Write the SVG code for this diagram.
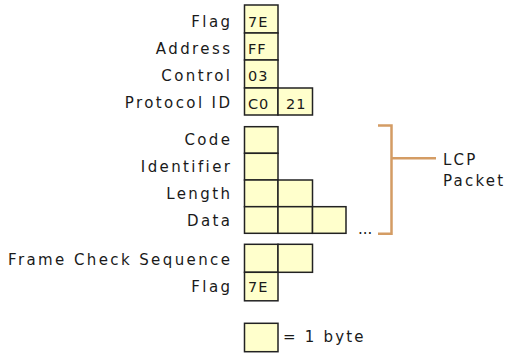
<svg xmlns="http://www.w3.org/2000/svg" width="505" height="354" viewBox="0 0 505 354">
<style>
.b{fill:#FFFFCC;stroke:#222;stroke-width:1.5}
.l{font-family:"DejaVu Sans",Verdana,sans-serif;font-size:15px;fill:#1a1a1a;letter-spacing:2.4px;text-anchor:end}
.v{font-family:"DejaVu Sans",Verdana,sans-serif;font-size:14.5px;fill:#1a1a1a;letter-spacing:1px}
.t{font-family:"DejaVu Sans",Verdana,sans-serif;font-size:15px;fill:#1a1a1a;letter-spacing:2.2px}
.c{fill:none;stroke:#D49C64;stroke-width:2.5}
</style>
<rect width="505" height="354" fill="#fff"/>
<g id="flag1">
<rect class="b" x="244.5" y="5" width="33.5" height="28"/>
<text class="l" x="232.4" y="26.5">Flag</text>
<text class="v" x="248" y="27">7E</text>
</g>
<g id="address">
<rect class="b" x="244.5" y="33" width="33.5" height="27"/>
<text class="l" x="232.4" y="53.5">Address</text>
<text class="v" x="248" y="53.5">FF</text>
</g>
<g id="control">
<rect class="b" x="244.5" y="60" width="33.5" height="28"/>
<text class="l" x="232.4" y="81">Control</text>
<text class="v" x="248" y="81">03</text>
</g>
<g id="protocol">
<rect class="b" x="244.5" y="88" width="33.5" height="27"/>
<rect class="b" x="278" y="88" width="34.5" height="27"/>
<text class="l" x="232.4" y="108">Protocol ID</text>
<text class="v" x="248" y="108.5">C0</text>
<text class="v" x="286" y="108.5">21</text>
</g>
<g id="code">
<rect class="b" x="244.5" y="126.7" width="33.5" height="26.6"/>
<text class="l" x="232.4" y="144.5">Code</text>
</g>
<g id="identifier">
<rect class="b" x="244.5" y="153.3" width="33.5" height="26.7"/>
<text class="l" x="232.4" y="172">Identifier</text>
</g>
<g id="length">
<rect class="b" x="244.5" y="180" width="33.5" height="26.7"/>
<rect class="b" x="278" y="180" width="34.5" height="26.7"/>
<text class="l" x="232.4" y="199">Length</text>
</g>
<g id="data">
<rect class="b" x="244.5" y="206.7" width="33.5" height="26.6"/>
<rect class="b" x="278" y="206.7" width="34.5" height="26.6"/>
<rect class="b" x="312.5" y="206.7" width="33.5" height="26.6"/>
<text class="l" x="232.4" y="226">Data</text>
<text class="t" x="358" y="234" style="letter-spacing:0">...</text>
</g>
<g id="fcs">
<rect class="b" x="244.5" y="244.3" width="33.5" height="28"/>
<rect class="b" x="278" y="244.3" width="34.5" height="28"/>
<text class="l" x="232.4" y="264.5">Frame Check Sequence</text>
</g>
<g id="flag2">
<rect class="b" x="244.5" y="272.3" width="33.5" height="28.5"/>
<text class="l" x="232.4" y="292">Flag</text>
<text class="v" x="248" y="292">7E</text>
</g>
<g id="lcp">
<text class="t" x="443" y="165">LCP</text>
<text class="t" x="443" y="185.5">Packet</text>
</g>
<g id="legend">
<rect class="b" x="244.5" y="323.3" width="33.5" height="28.4"/>
<text class="t" x="283" y="341.5">= 1 byte</text>
</g>
<g id="connectors">
<path class="c" d="M378 125.5H391.5V233.8H378M391.5 158.3H436"/>
</g>
</svg>
